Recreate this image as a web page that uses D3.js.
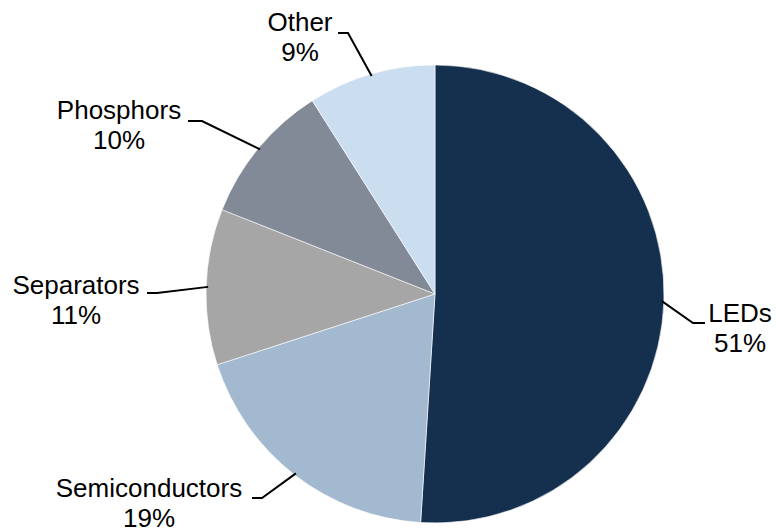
<!DOCTYPE html>
<html>
<head>
<meta charset="utf-8">
<script src="https://cdn.jsdelivr.net/npm/d3@7"></script>
<style>
  html, body { margin: 0; padding: 0; background: #ffffff; }
  svg { display: block; }
  text { font-family: "Liberation Sans", Arial, sans-serif; fill: #000; }
</style>
</head>
<body>
<svg id="chart" width="776" height="532"></svg>
<script>
// Share of demand by end use (%)
const categories = ["LEDs", "Semiconductors", "Separators", "Phosphors", "Other"];
const shares = [51, 19, 11, 10, 9];
const colors = ["#15304f", "#a3b9cf", "#a6a6a6", "#838a97", "#cbdef0"];

// Label placement: label centre / first baseline, leader elbow and leader end
const labelLayout = [
  { tx: 740, ty: 322, ex: 693, ey: 323, hx: 705 },
  { tx: 149, ty: 497, ex: 262, ey: 498, hx: 252 },
  { tx: 76,  ty: 294, ex: 157, ey: 293, hx: 147 },
  { tx: 119, ty: 119, ex: 202, ey: 121, hx: 188 },
  { tx: 300, ty: 31,  ex: 348, ey: 33,  hx: 338 }
];

const svg = d3.select("#chart");
const cx = 435, cy = 294, radius = 229;

const data = categories.map((c, i) => ({ name: c, value: shares[i], i }));

const pie = d3.pie()
  .value(d => d.value)
  .sort(null);

const arc = d3.arc().innerRadius(0).outerRadius(radius);
const arcs = pie(data);

const g = svg.append("g").attr("transform", `translate(${cx},${cy})`);

g.selectAll("path.slice")
  .data(arcs)
  .join("path")
  .attr("class", "slice")
  .attr("d", arc)
  .attr("fill", d => colors[d.data.i])
  .attr("stroke", "#ffffff")
  .attr("stroke-width", 0.6);

// Leader lines: from the slice edge at mid-angle to the elbow, then horizontal
svg.selectAll("polyline.leader")
  .data(arcs)
  .join("polyline")
  .attr("class", "leader")
  .attr("fill", "none")
  .attr("stroke", "#000")
  .attr("stroke-width", 2)
  .attr("points", d => {
    const L = labelLayout[d.data.i];
    const mid = (d.startAngle + d.endAngle) / 2;
    const r = radius - 2;
    const sx = cx + r * Math.sin(mid);
    const sy = cy - r * Math.cos(mid);
    return [[sx, sy], [L.ex, L.ey], [L.hx, L.ey]].map(p => p.join(",")).join(" ");
  });

const labels = svg.selectAll("text.label")
  .data(arcs)
  .join("text")
  .attr("class", "label")
  .attr("text-anchor", "middle")
  .style("font-size", "26px");

labels.append("tspan")
  .attr("x", d => labelLayout[d.data.i].tx)
  .attr("y", d => labelLayout[d.data.i].ty)
  .text(d => d.data.name);

labels.append("tspan")
  .attr("x", d => labelLayout[d.data.i].tx)
  .attr("y", d => labelLayout[d.data.i].ty + 30)
  .text(d => d.data.value + "%");
</script>
</body>
</html>
